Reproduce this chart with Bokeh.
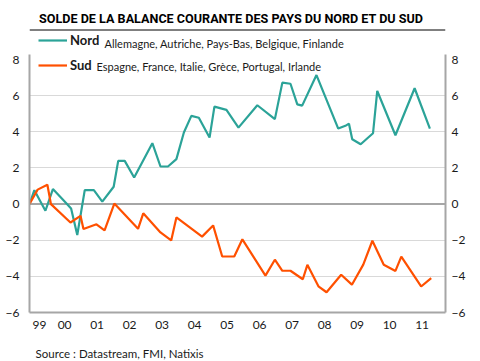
from bokeh.plotting import figure
from bokeh.models import (Range1d, LinearAxis, FixedTicker, Span, Legend, LegendItem,
                          Label, ColumnDataSource)
from bokeh.layouts import column
from bokeh.embed import file_html
from bokeh.resources import INLINE

# ---------------- data ----------------
title_text = "SOLDE DE LA BALANCE COURANTE DES PAYS DU NORD ET DU SUD"
source_text = "Source : Datastream, FMI, Natixis"
nord_name = "Nord"
nord_countries = "Allemagne, Autriche, Pays-Bas, Belgique, Finlande"
sud_name = "Sud"
sud_countries = "Espagne, France, Italie, Grèce, Portugal, Irlande"

nord_t = [1999.00, 1999.15, 1999.49, 1999.72, 2000.11, 2000.28, 2000.47, 2000.70, 2000.98,
          2001.24, 2001.59, 2001.73, 2001.93, 2002.22, 2002.78, 2003.03, 2003.26, 2003.52,
          2003.75, 2003.98, 2004.21, 2004.54, 2004.69, 2005.06, 2005.43, 2006.01, 2006.55,
          2006.78, 2007.03, 2007.24, 2007.39, 2007.83, 2008.50, 2008.72, 2008.83, 2008.93,
          2009.19, 2009.57, 2009.70, 2010.26, 2010.85, 2011.32]
nord_v = [0.00, 0.77, -0.37, 0.83, 0.09, -0.24, -1.71, 0.77, 0.77,
          0.14, 0.96, 2.39, 2.39, 1.47, 3.37, 2.08, 2.08, 2.49,
          3.96, 4.88, 4.78, 3.68, 5.39, 5.21, 4.23, 5.47, 4.70,
          6.72, 6.66, 5.52, 5.45, 7.14, 4.18, 4.33, 4.45, 3.59,
          3.31, 3.92, 6.26, 3.81, 6.41, 4.18]

sud_t = [1999.00, 1999.25, 1999.55, 1999.66, 2000.26, 2000.57, 2000.66, 2001.06, 2001.31,
         2001.61, 2002.34, 2002.50, 2003.03, 2003.36, 2003.52, 2004.31, 2004.65, 2004.93,
         2005.30, 2005.55, 2006.26, 2006.55, 2006.78, 2007.03, 2007.41, 2007.55, 2007.89,
         2008.14, 2008.59, 2008.92, 2009.27, 2009.55, 2009.90, 2010.26, 2010.44, 2011.05,
         2011.36]
sud_v = [0.00, 0.80, 1.07, 0.00, -1.02, -0.65, -1.38, -1.12, -1.45,
         0.03, -1.37, -0.51, -1.57, -2.01, -0.74, -1.80, -1.18, -2.90,
         -2.90, -1.95, -3.96, -3.08, -3.69, -3.69, -4.16, -3.36, -4.55,
         -4.88, -3.91, -4.46, -3.35, -2.03, -3.36, -3.70, -2.91, -4.56,
         -4.10]

years = list(range(1999, 2012))
year_labels = ["99", "00", "01", "02", "03", "04", "05", "06", "07", "08", "09", "10", "11"]
y_ticks = [-6, -4, -2, 0, 2, 4, 6, 8]
grid_ticks = [-4, -2, 2, 4, 6]

# ---------------- styles ----------------
NORD_COLOR = "#2BA398"
SUD_COLOR = "#FF5000"
TEXT_COLOR = "#1a1a1a"
AXIS_COLOR = "#a6a6a6"
GRID_COLOR = "#d9d9d9"
RULE_DOTTED = "#8c8c8c"
FONT = "Lato"
TITLE_FONT = "Roboto"

W = 480
HEADER_H = 33
FOOTER_H = 19
BORDER_L = 29
BORDER_B = 29
FRAME_W = 416
FRAME_H = 279
PX_PER_YEAR = 32.5
PX_PER_UNIT = 18.07

x0 = 1999.0
x1 = x0 + FRAME_W / PX_PER_YEAR
y0 = -6.0
y1 = y0 + FRAME_H / PX_PER_UNIT
axis_top = 8.27

# ---------------- header ----------------
hdr = figure(width=W, height=HEADER_H, x_range=Range1d(0, W), y_range=Range1d(0, HEADER_H),
             output_backend="svg", toolbar_location=None, min_border=0,
             x_axis_type=None, y_axis_type=None)
hdr.outline_line_color = None
hdr.add_layout(Label(x=11, y=HEADER_H - 17.5, text=title_text, text_font=TITLE_FONT,
                     text_font_style="bold", text_font_size="12.6px", text_color="black",
                     text_baseline="middle", text_align="left"))
hdr.segment(x0=[0], x1=[W], y0=[HEADER_H - 29.5], y1=[HEADER_H - 29.5],
            line_color="black", line_width=1)

# ---------------- main chart ----------------
p = figure(frame_width=FRAME_W, frame_height=FRAME_H,
           x_range=Range1d(x0, x1), y_range=Range1d(y0, y1),
           output_backend="svg", toolbar_location=None,
           min_border_left=BORDER_L, min_border_right=W - BORDER_L - FRAME_W,
           min_border_top=0, min_border_bottom=BORDER_B)
p.outline_line_color = None
p.xgrid.visible = False
p.ygrid.ticker = FixedTicker(ticks=grid_ticks)
p.ygrid.grid_line_color = GRID_COLOR
p.ygrid.grid_line_width = 1

tick_pos = [y + (0.31 if y == 1999 else 0.08) for y in years]
xa = p.xaxis[0]
xa.ticker = FixedTicker(ticks=tick_pos)
xa.major_label_overrides = {t: l for t, l in zip(tick_pos, year_labels)}
xa.axis_line_color = AXIS_COLOR
xa.axis_line_width = 2
xa.major_tick_out = 0
xa.major_tick_in = 0
xa.minor_tick_out = 0
xa.minor_tick_in = 0
xa.major_label_standoff = 8
xa.major_label_text_font = FONT
xa.major_label_text_font_size = "12px"
xa.major_label_text_color = TEXT_COLOR

ya = p.yaxis[0]
ra = LinearAxis()
p.add_layout(ra, "right")
for ax, standoff in ((ya, 10), (ra, 6)):
    ax.ticker = FixedTicker(ticks=y_ticks)
    ax.bounds = (y0, axis_top)
    ax.axis_line_color = AXIS_COLOR
    ax.axis_line_width = 2
    ax.major_tick_out = 0
    ax.major_tick_in = 0
    ax.minor_tick_out = 0
    ax.minor_tick_in = 0
    ax.major_label_standoff = standoff
    ax.major_label_text_font = FONT
    ax.major_label_text_font_size = "12px"
    ax.major_label_text_color = TEXT_COLOR

p.add_layout(Span(location=0, dimension="width", line_color=AXIS_COLOR, line_width=2,
                  level="underlay"))

src_n = ColumnDataSource(dict(t=nord_t, v=nord_v))
src_s = ColumnDataSource(dict(t=sud_t, v=sud_v))
r_n = p.line("t", "v", source=src_n, line_color=NORD_COLOR, line_width=2.2)
r_s = p.line("t", "v", source=src_s, line_color=SUD_COLOR, line_width=2.2)

legend = Legend(items=[LegendItem(label=nord_name, renderers=[r_n]),
                       LegendItem(label=sud_name, renderers=[r_s])],
                location=(9, FRAME_H - 3 - 37), orientation="vertical",
                glyph_width=29, glyph_height=14, label_height=14, spacing=9,
                padding=0, margin=0, label_standoff=3,
                label_text_font=FONT, label_text_font_style="bold",
                label_text_font_size="13px", label_text_color=TEXT_COLOR,
                background_fill_alpha=0, border_line_alpha=0)
p.add_layout(legend)

p.add_layout(Label(x=75, y=FRAME_H + HEADER_H - 43, x_units="screen", y_units="screen",
                   text=nord_countries, text_font=FONT, text_font_size="11px",
                   text_color=TEXT_COLOR, text_baseline="middle", text_align="left"))
p.add_layout(Label(x=67, y=FRAME_H + HEADER_H - 66, x_units="screen", y_units="screen",
                   text=sud_countries, text_font=FONT, text_font_size="11px",
                   text_color=TEXT_COLOR, text_baseline="middle", text_align="left"))

# ---------------- footer rule (1px strip) ----------------
rule = figure(width=W, height=1, x_range=Range1d(0, 1), y_range=Range1d(0, 1),
              output_backend="svg", toolbar_location=None, min_border=0,
              x_axis_type=None, y_axis_type=None,
              background_fill_color=RULE_DOTTED, border_fill_color=RULE_DOTTED)
rule.outline_line_color = None

# ---------------- footer ----------------
ftr = figure(width=W, height=FOOTER_H, x_range=Range1d(0, W), y_range=Range1d(0, FOOTER_H),
             output_backend="svg", toolbar_location=None, min_border=0,
             x_axis_type=None, y_axis_type=None)
ftr.outline_line_color = None
ftr.add_layout(Label(x=7, y=8.5, text=source_text, text_font=FONT,
                     text_font_size="11.5px", text_color=TEXT_COLOR,
                     text_baseline="middle", text_align="left"))

layout = column(hdr, p, rule, ftr, spacing=0)
open("out.html", "w").write(file_html(layout, INLINE))
